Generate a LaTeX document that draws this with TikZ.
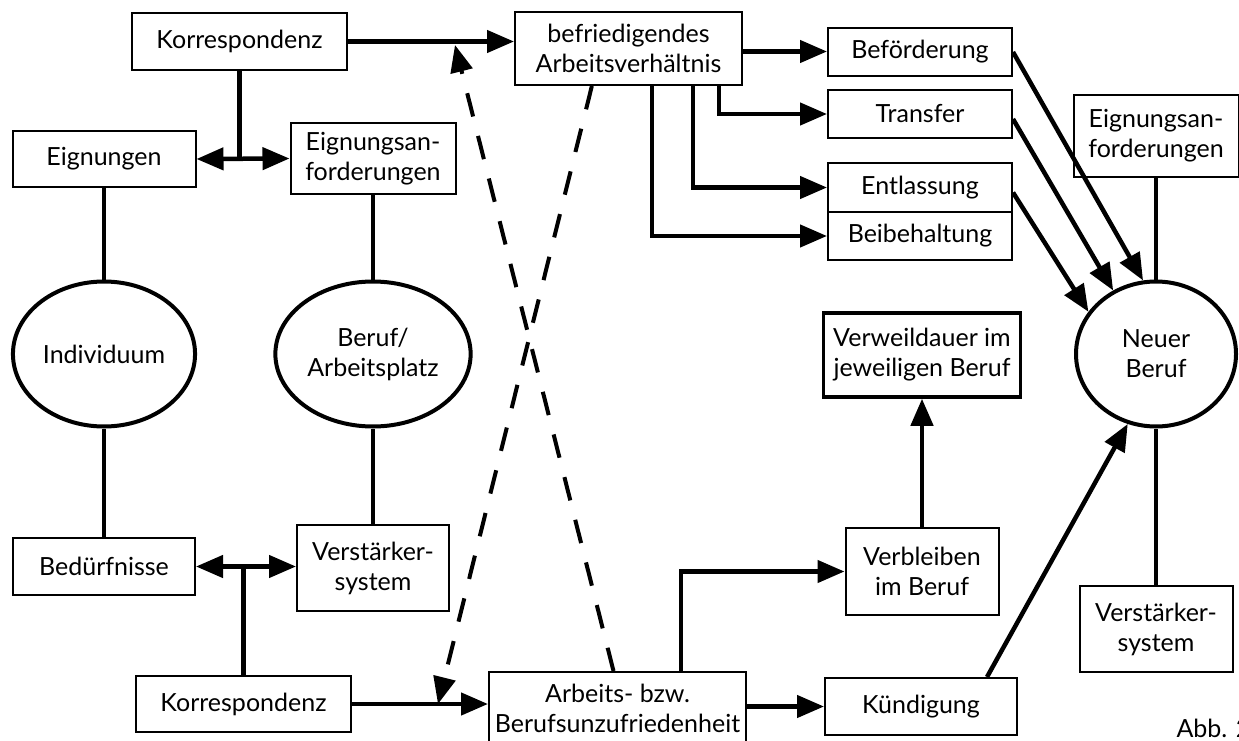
\documentclass[tikz,border=0pt]{standalone}
\usepackage{fontspec}
\setmainfont{Lato}
\usetikzlibrary{arrows.meta,shapes.geometric,calc}

\begin{document}
\begin{tikzpicture}[x=1pt,y=-1pt]
\tikzstyle{every node}=[font=\fontsize{25}{30}\selectfont]
\tikzstyle{box}=[draw, line width=2pt, align=center, inner sep=0pt]
\tikzstyle{oval}=[draw, ellipse, line width=4pt, align=center, minimum width=160pt, minimum height=145pt]
\tikzstyle{conn}=[line width=4.5pt]
\tikzstyle{arr}=[conn, -{Triangle[length=27pt,width=22pt]}]
\tikzstyle{dbl}=[conn, {Triangle[length=27pt,width=22pt]}-{Triangle[length=27pt,width=22pt]}]
\tikzstyle{dsh}=[line width=4pt, dash pattern=on 24pt off 20pt, -{Triangle[length=27pt,width=22pt]}]
\useasboundingbox (0,0) rectangle (1239,741);

% linke Seite
\node[box, minimum width=215pt, minimum height=57pt] (korrO) at (239.5,41.5) {Korrespondenz};
\node[box, minimum width=183pt, minimum height=56pt] (eign) at (104,159) {Eignungen};
\node[box, minimum width=165pt, minimum height=71pt] (anfL) at (373,158.5) {Eignungsan-\\forderungen};
\node[oval] (indiv) at (104,354) {Individuum};
\node[oval] (beruf) at (373,354) {Beruf/\\Arbeitsplatz};
\node[box, minimum width=182pt, minimum height=57pt] (beduerf) at (104,566.5) {Bedürfnisse};
\node[box, minimum width=152pt, minimum height=86pt] (verstL) at (373,568) {Verstärker-\\system};
\node[box, minimum width=215pt, minimum height=56pt] (korrU) at (243.5,704) {Korrespondenz};

% Mitte
\node[box, minimum width=227pt, minimum height=73pt] (befr) at (628.5,48.5) {befriedigendes\\Arbeitsverhältnis};
\node[box, minimum width=257pt, minimum height=73pt] (unzuf) at (617.5,708.5) {Arbeits- bzw.\\Berufsunzufriedenheit};

% rechte Seite
\node[box, minimum width=184pt, minimum height=48pt] (befoerd) at (920,52) {Beförderung};
\node[box, minimum width=184pt, minimum height=48pt] (transfer) at (920,114) {Transfer};
\node[box, minimum width=184pt, minimum height=49pt] (entl) at (920,187.5) {Entlassung};
\node[box, minimum width=184pt, minimum height=48pt] (beib) at (920,236) {Beibehaltung};
\node[box, line width=3.5pt, minimum width=197pt, minimum height=84pt] (verweil) at (922,355) {Verweildauer im\\jeweiligen Beruf};
\node[box, minimum width=153pt, minimum height=87pt] (verbl) at (922,571.5) {Verbleiben\\im Beruf};
\node[box, minimum width=192pt, minimum height=57pt] (kuend) at (921,706.5) {Kündigung};
\node[box, minimum width=165pt, minimum height=82pt] (anfR) at (1156,136) {Eignungsan-\\forderungen};
\node[oval] (neuer) at (1156,354) {Neuer\\Beruf};
\node[box, minimum width=153pt, minimum height=86pt] (verstR) at (1156,629) {Verstärker-\\system};
\node[anchor=base west] (abb) at (1173,737) {Abb. 2};

\coordinate (dTop) at (455,45);
\coordinate (dBot) at (438,704);

\draw[conn] (eign) -- (indiv);
\draw[conn] (indiv) -- (beduerf);
\draw[conn] (anfL) -- (beruf);
\draw[conn] (beruf) -- (verstL);
\draw[conn] (anfR) -- (neuer);
\draw[conn] (neuer) -- (verstR);

\draw[conn] (korrO.south) -- (korrO.south |- eign.east);
\draw[dbl] (eign.east) -- (anfL.west);
\draw[conn] (korrU.north) -- (korrU.north |- beduerf.east);
\draw[dbl] (beduerf.east) -- (beduerf.east -| verstL.west);

\draw[arr] (korrO.east) -- (korrO.east -| befr.west);
\draw[arr] (korrU.east) -- (korrU.east -| unzuf.west);
\draw[dsh] ([xshift=-4pt]unzuf.north) -- (dTop);
\draw[dsh] ($(befr.south west)!0.34!(befr.south east)$) -- (dBot);

\draw[arr] ([yshift=-3pt]befr.east) -- ([yshift=-3pt]befr.east -| befoerd.west);
\draw[arr] ([xshift=-24pt]befr.south east) |- (transfer.west);
\draw[arr] ([xshift=-50pt]befr.south east) |- (entl.west);
\draw[arr] ([xshift=-91pt]befr.south east) |- (beib.west);

\draw[arr] (befoerd.east) -- (neuer.100);
\draw[arr] ([yshift=-5pt]transfer.east) -- (neuer.124);
\draw[arr] ([yshift=-5pt]entl.east) -- (neuer.148);

\draw[arr] ([xshift=63.5pt]unzuf.north) |- (verbl.west);
\draw[arr] (unzuf.east |- kuend.west) -- (kuend.west);
\draw[arr] (verbl.north) -- (verweil.south);
\draw[arr] ([xshift=66pt]kuend.north) -- (neuer.248);

\end{tikzpicture}
\end{document}
